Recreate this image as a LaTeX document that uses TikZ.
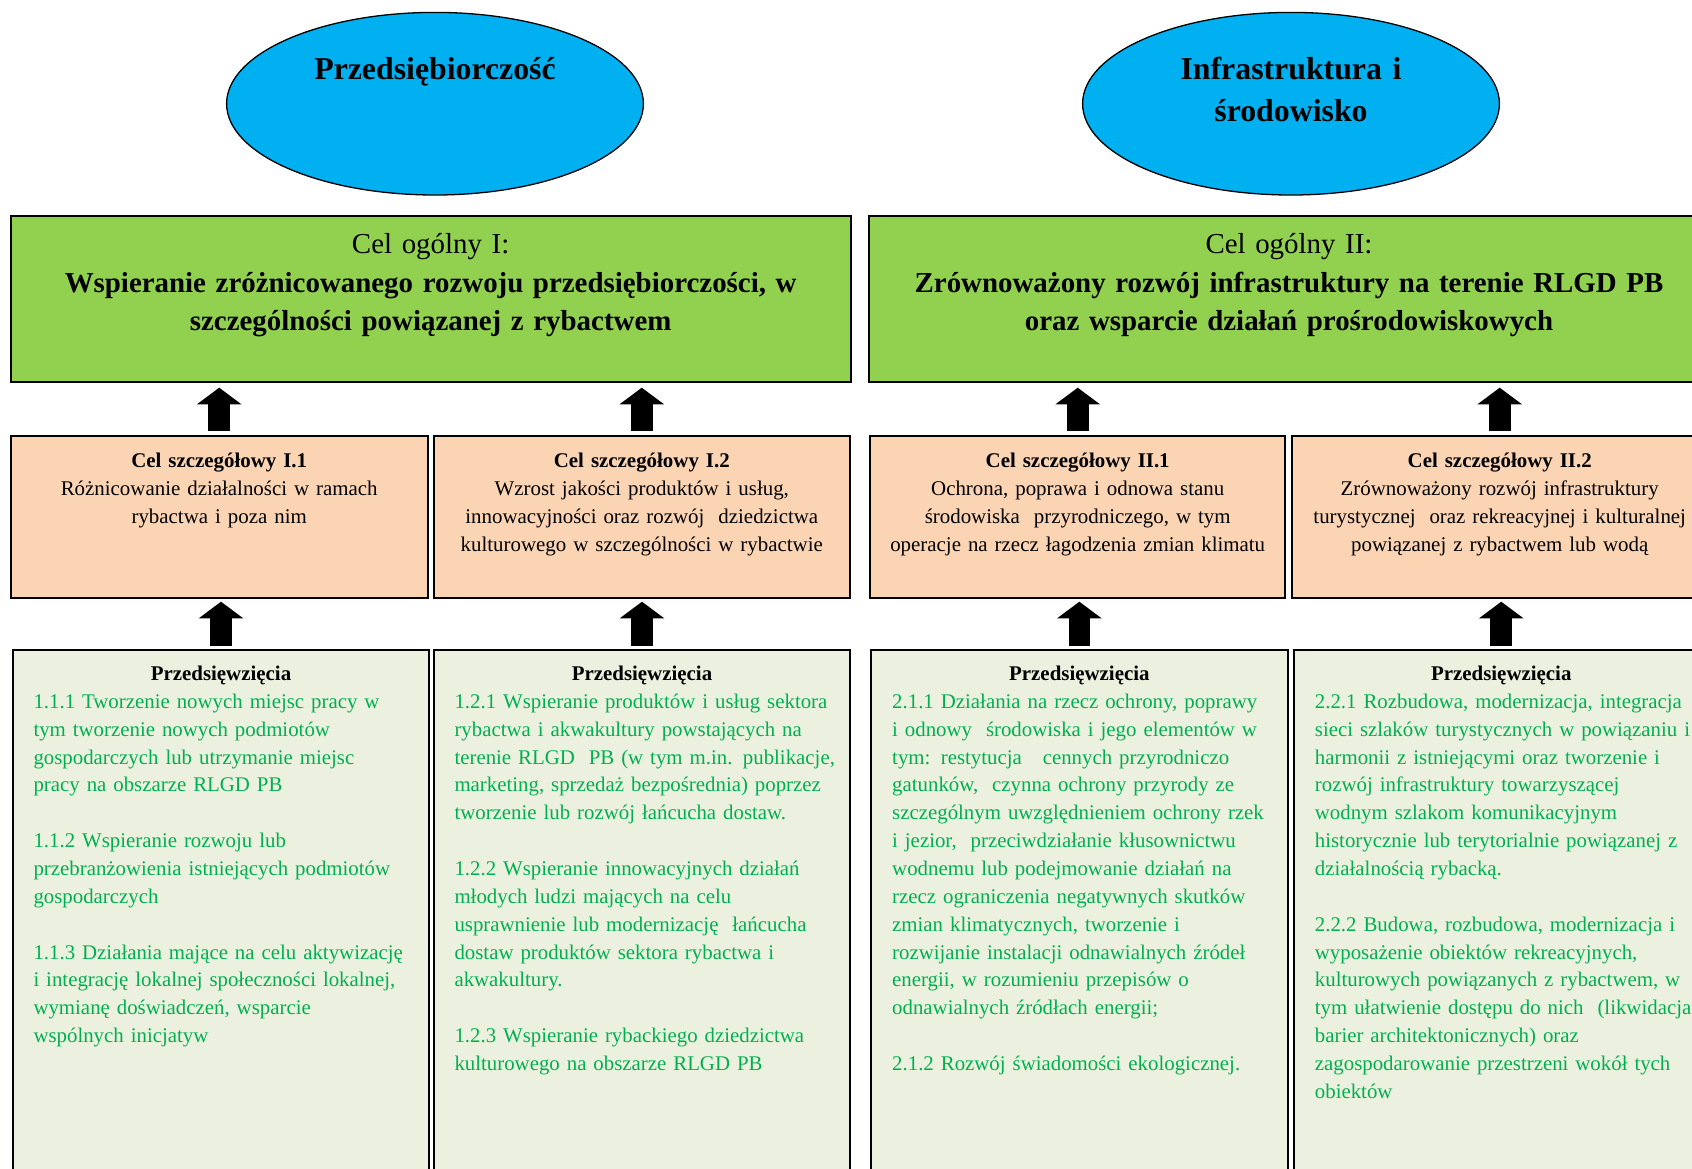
\documentclass[tikz,border=0pt]{standalone}
\usepackage{fontspec}
\setmainfont{Liberation Serif}
\usetikzlibrary{shapes.geometric,arrows.meta}
\definecolor{ellblue}{HTML}{00B0F0}
\definecolor{boxgreen}{HTML}{92D050}
\definecolor{boxorange}{HTML}{FBD4B4}
\definecolor{boxlg}{HTML}{EBF1DE}
\definecolor{txtgreen}{HTML}{00B050}
\begin{document}
\begin{tikzpicture}[x=1pt,y=-1pt,
  ell/.style={ellipse, draw=black, line width=1.3pt, fill=ellblue, minimum width=416.8pt, minimum height=182.6pt, inner sep=0pt},
  gbox/.style={rectangle, draw=black, line width=2pt, fill=boxgreen, inner sep=0pt, minimum height=165.7pt},
  obox/.style={rectangle, draw=black, line width=2pt, fill=boxorange, inner sep=0pt, minimum height=162.6pt},
  lbox/.style={rectangle, draw=black, line width=2pt, fill=boxlg, inner sep=0pt, minimum height=535.5pt},
  elltext/.style={font=\fontsize{31.8}{42.7}\selectfont\bfseries, align=center, text width=400pt, inner sep=0pt, anchor=base},
  gtext/.style={font=\fontsize{28.9}{38.8}\selectfont, align=center, text width=830pt, inner sep=0pt, anchor=base},
  otext/.style={font=\fontsize{20.9}{28}\selectfont, align=center, text width=412pt, inner sep=0pt, anchor=base},
  ltitle/.style={font=\fontsize{20.9}{27.86}\selectfont\bfseries, inner sep=0pt, anchor=base},
  lbody/.style={font=\fontsize{20.85}{27.86}\selectfont, text=txtgreen, align=left, text width=450pt, inner sep=0pt, anchor=base west},
  barrow/.style={line width=21.7pt, -{Triangle[width=44.5pt,length=16.6pt,line width=0pt]}}
]
\useasboundingbox (0,0) rectangle (1692,1168);
\clip (0,0) rectangle (1692,1168);
\fill[white] (0,0) rectangle (1692,1168);

% ellipses
\node[ell] (e1) at (435,103.7) {};
\node[ell] (e2) at (1291,103.7) {};
\node[elltext] (e1t) at (435,79.3) {Przedsiębiorczość};
\node[elltext] (e2t) at (1291,79) {Infrastruktura i\\środowisko};

% general goals
\node[gbox, minimum width=839.7pt] (g1) at (430.65,298.85) {};
\node[gbox, minimum width=840pt] (g2) at (1289,298.85) {};
\node[gtext] (g1t) at (430.65,253.3) {Cel ogólny I:\\\textbf{Wspieranie zróżnicowanego rozwoju przedsiębiorczości, w}\\\textbf{szczególności powiązanej z rybactwem}};
\node[gtext] (g2t) at (1289,253.3) {Cel ogólny II:\\\textbf{Zrównoważony rozwój infrastruktury na terenie RLGD PB}\\\textbf{oraz wsparcie działań prośrodowiskowych}};

% specific goals
\node[obox, minimum width=416.8pt] (o1) at (219.2,517) {};
\node[obox, minimum width=416.4pt] (o2) at (641.8,517) {};
\node[obox, minimum width=415.4pt] (o3) at (1077.7,517) {};
\node[obox, minimum width=414.6pt] (o4) at (1499.7,517) {};
\node[otext] (o1t) at (219.2,467.3) {\textbf{Cel szczegółowy I.1}\\Różnicowanie działalności w ramach\\rybactwa i poza nim};
\node[otext] (o2t) at (641.8,467.3) {\textbf{Cel szczegółowy I.2}\\Wzrost jakości produktów i usług,\\innowacyjności oraz rozwój\ \ dziedzictwa\\kulturowego w szczególności w rybactwie};
\node[otext] (o3t) at (1077.7,467.3) {\textbf{Cel szczegółowy II.1}\\Ochrona, poprawa i odnowa stanu\\środowiska\ \ przyrodniczego, w tym\\operacje na rzecz łagodzenia zmian klimatu};
\node[otext] (o4t) at (1499.7,467.3) {\textbf{Cel szczegółowy II.2}\\Zrównoważony rozwój infrastruktury\\turystycznej\ \ oraz rekreacyjnej i kulturalnej\\powiązanej z rybactwem lub wodą};

% undertakings
\node[lbox, minimum width=416.6pt] (l1) at (221,917.25) {};
\node[lbox, minimum width=416pt] (l2) at (642,917.25) {};
\node[lbox, minimum width=416.7pt] (l3) at (1079.35,917.25) {};
\node[lbox, minimum width=415.5pt] (l4) at (1501.25,917.25) {};
\node[ltitle] (l1h) at (221,680.7) {Przedsięwzięcia};
\node[ltitle] (l2h) at (642,680.7) {Przedsięwzięcia};
\node[ltitle] (l3h) at (1079.35,680.7) {Przedsięwzięcia};
\node[ltitle] (l4h) at (1501.25,680.7) {Przedsięwzięcia};

\node[lbody] (l1b) at (33.3,708.3) {1.1.1 Tworzenie nowych miejsc pracy w\\tym tworzenie nowych podmiotów\\gospodarczych lub utrzymanie miejsc\\pracy na obszarze RLGD PB\\[27.86pt]1.1.2 Wspieranie rozwoju lub\\przebranżowienia istniejących podmiotów\\gospodarczych\\[27.86pt]1.1.3 Działania mające na celu aktywizację\\i integrację lokalnej społeczności lokalnej,\\wymianę doświadczeń, wsparcie\\wspólnych inicjatyw};

\node[lbody] (l2b) at (454.3,708.3) {1.2.1 Wspieranie produktów i usług sektora\\rybactwa i akwakultury powstających na\\terenie RLGD\ \ PB (w tym m.in. publikacje,\\marketing, sprzedaż bezpośrednia) poprzez\\tworzenie lub rozwój łańcucha dostaw.\\[27.86pt]1.2.2 Wspieranie innowacyjnych działań\\młodych ludzi mających na celu\\usprawnienie lub modernizację\ \ łańcucha\\dostaw produktów sektora rybactwa i\\akwakultury.\\[27.86pt]1.2.3 Wspieranie rybackiego dziedzictwa\\kulturowego na obszarze RLGD PB};

\node[lbody] (l3b) at (892,708.3) {2.1.1 Działania na rzecz ochrony, poprawy\\i odnowy\ \ środowiska i jego elementów w\\tym: restytucja\ \ \ cennych przyrodniczo\\gatunków,\ \ czynna ochrony przyrody ze\\szczególnym uwzględnieniem ochrony rzek\\i jezior,\ \ przeciwdziałanie kłusownictwu\\wodnemu lub podejmowanie działań na\\rzecz ograniczenia negatywnych skutków\\zmian klimatycznych, tworzenie i\\rozwijanie instalacji odnawialnych źródeł\\energii, w rozumieniu przepisów o\\odnawialnych źródłach energii;\\[27.86pt]2.1.2 Rozwój świadomości ekologicznej.};

\node[lbody] (l4b) at (1314.7,708.3) {2.2.1 Rozbudowa, modernizacja, integracja\\sieci szlaków turystycznych w powiązaniu i\\harmonii z istniejącymi oraz tworzenie i\\rozwój infrastruktury towarzyszącej\\wodnym szlakom komunikacyjnym\\historycznie lub terytorialnie powiązanej z\\działalnością rybacką.\\[27.86pt]2.2.2 Budowa, rozbudowa, modernizacja i\\wyposażenie obiektów rekreacyjnych,\\kulturowych powiązanych z rybactwem, w\\tym ułatwienie dostępu do nich\ \ (likwidacja\\barier architektonicznych) oraz\\zagospodarowanie przestrzeni wokół tych\\obiektów};

% block arrows
\foreach \o/\g in {o1/g1,o2/g1,o3/g2,o4/g2}{
  \draw[barrow, shorten <=3.4pt, shorten >=5pt] (\o.north) -- (\o.north |- \g.south);
}
\foreach \l/\o in {l1/o1,l2/o2,l3/o3,l4/o4}{
  \draw[barrow, shorten <=2.8pt, shorten >=2.4pt] (\l.north) -- (\l.north |- \o.south);
}
\end{tikzpicture}
\end{document}
